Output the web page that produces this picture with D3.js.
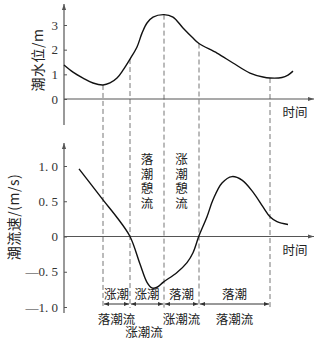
<!DOCTYPE html>
<html><head><meta charset="utf-8">
<script src="https://cdn.jsdelivr.net/npm/d3@7"></script>
<style>
html,body{margin:0;padding:0;background:#fff;}
svg{display:block;}
</style></head>
<body>
<svg id="c" width="325" height="351"></svg>
<script>
// ---- data ----
const levelTime  = [0, 0.45, 0.95, 1.45, 1.95, 2.3, 2.65, 2.95, 3.3, 3.65, 3.9, 4.15, 4.45, 5.0, 5.45, 5.95, 6.45, 6.75, 7.65, 8.45, 9.3, 9.95, 10.3, 10.9, 11.2, 11.45];
const levelValue = [1.38, 1.09, 0.85, 0.65, 0.57, 0.65, 0.85, 1.17, 1.62, 2.11, 2.67, 3.08, 3.32, 3.42, 3.32, 2.88, 2.47, 2.25, 1.86, 1.46, 1.05, 0.89, 0.85, 0.87, 0.97, 1.13];
const speedTime  = [0.75, 1.95, 2.65, 3.3, 3.8, 4.15, 4.4, 4.65, 4.95, 5.65, 6.15, 6.45, 6.75, 7.15, 7.45, 7.9, 8.4, 8.9, 9.45, 9.95, 10.3, 10.65, 11.2];
const speedValue = [0.96, 0.52, 0.27, 0, -0.39, -0.65, -0.73, -0.72, -0.65, -0.51, -0.37, -0.23, 0.01, 0.28, 0.52, 0.76, 0.85, 0.80, 0.63, 0.42, 0.28, 0.21, 0.17];
const boundaries = [1.95, 3.3, 5.0, 6.75, 10.3];
const tideLabels = ["涨潮", "涨潮", "落潮", "落潮"];
const flowLabels = ["落潮流", "涨潮流", "涨潮流", "落潮流"];
const flowRows   = [0, 1, 0, 0];
const slackLabels = [{seg: 1, text: "落潮憩流"}, {seg: 2, text: "涨潮憩流"}];
const levelTicks = [0, 1, 2, 3];
const speedTicks = [-1.0, -0.5, 0, 0.5, 1.0];
const levelTitle = "潮水位/m";
const speedTitle = "潮流速/(m/s)";
const timeTitle = "时间";

// ---- scales ----
const x = d3.scaleLinear().domain([0, 12.45]).range([64, 313]);
const yTop = d3.scaleLinear().domain([0, 3]).range([99, 25]);
const yBot = d3.scaleLinear().domain([-1, 1]).range([307, 166]);

const svg = d3.select("#c");
const AX = "#555";
const CJK = "'Noto Sans CJK SC', sans-serif";
const SERIF = "'Liberation Serif', 'DejaVu Serif', serif";

const defs = svg.append("defs");
defs.append("marker").attr("id","ah").attr("viewBox","0 0 10 10").attr("refX",10).attr("refY",5)
  .attr("markerWidth",8).attr("markerHeight",6).attr("markerUnits","userSpaceOnUse").attr("orient","auto")
  .append("path").attr("d","M0,1.5 L10,5 L0,8.5 Z").attr("fill",AX);
defs.append("marker").attr("id","sa").attr("viewBox","0 0 10 10").attr("refX",10).attr("refY",5)
  .attr("markerWidth",6).attr("markerHeight",5).attr("markerUnits","userSpaceOnUse").attr("orient","auto-start-reverse")
  .append("path").attr("d","M0,1 L10,5 L0,9 Z").attr("fill","#333");

// ---- dashed boundary lines ----
const interp = (t) => {
  const i = d3.bisectLeft(levelTime, t);
  if (levelTime[i] === t) return levelValue[i];
  const t0 = levelTime[i-1], t1 = levelTime[i];
  return levelValue[i-1] + (levelValue[i]-levelValue[i-1]) * (t - t0) / (t1 - t0);
};
const dashBottom = yBot(-1) + 1;
svg.append("g").selectAll("line").data(boundaries).join("line")
  .attr("x1", d => x(d)).attr("x2", d => x(d))
  .attr("y1", d => yTop(interp(d))).attr("y2", dashBottom)
  .attr("stroke", "#777").attr("stroke-width", 1).attr("stroke-dasharray", "5,3");

// ---- top axes ----
const gTop = svg.append("g");
gTop.append("line").attr("x1", x(0)).attr("x2", x(0)).attr("y1", yTop(-1.05)).attr("y2", 4)
  .attr("stroke", AX).attr("stroke-width", 1.2).attr("marker-end", "url(#ah)");
gTop.append("line").attr("x1", x(0)).attr("x2", 314).attr("y1", yTop(0)).attr("y2", yTop(0))
  .attr("stroke", AX).attr("stroke-width", 1.2).attr("marker-end", "url(#ah)");
const yAxisTop = d3.axisRight(yTop).tickValues(levelTicks).tickSize(3).tickFormat("");
gTop.append("g").attr("transform", `translate(${x(0)},0)`).call(yAxisTop)
  .call(g => g.select(".domain").remove())
  .call(g => g.selectAll("line").attr("stroke", AX));
gTop.selectAll("text.tl").data(levelTicks).join("text").attr("class","tl")
  .attr("x", 58).attr("y", d => yTop(d)).attr("dy", "0.35em").attr("text-anchor", "end")
  .attr("font-family", SERIF).attr("font-size", 13).attr("fill", "#333").text(d => d);
svg.append("text").attr("transform", `translate(43,60) rotate(-90)`).attr("text-anchor","middle")
  .attr("font-family", CJK).attr("font-size", 14).attr("fill", "#222").attr("letter-spacing", 0.5).text(levelTitle);
svg.append("text").attr("x", 295).attr("y", yTop(0) + 14).attr("dy","0.35em").attr("text-anchor","middle")
  .attr("font-family", CJK).attr("font-size", 12.5).attr("fill", "#222").text(timeTitle);

// ---- bottom axes ----
const gBot = svg.append("g");
gBot.append("line").attr("x1", x(0)).attr("x2", x(0)).attr("y1", 313).attr("y2", 143)
  .attr("stroke", AX).attr("stroke-width", 1.2).attr("marker-end", "url(#ah)");
gBot.append("line").attr("x1", x(0)).attr("x2", 314).attr("y1", yBot(0)).attr("y2", yBot(0))
  .attr("stroke", AX).attr("stroke-width", 1.2).attr("marker-end", "url(#ah)");
const yAxisBot = d3.axisRight(yBot).tickValues(speedTicks).tickSize(3).tickFormat("");
gBot.append("g").attr("transform", `translate(${x(0)},0)`).call(yAxisBot)
  .call(g => g.select(".domain").remove())
  .call(g => g.selectAll("line").attr("stroke", AX));
const fmt = d => d === 0 ? "0" : (d < 0 ? "—" : "") + d3.format(".1f")(Math.abs(d)).replace(".", ". ");
gBot.selectAll("text.tl").data(speedTicks).join("text").attr("class","tl")
  .attr("x", 58).attr("y", d => yBot(d)).attr("dy", "0.35em").attr("text-anchor", "end")
  .attr("font-family", SERIF).attr("font-size", 13).attr("fill", "#333").attr("xml:space","preserve").text(fmt);
svg.append("text").attr("transform", `translate(19,217) rotate(-90)`).attr("text-anchor","middle")
  .attr("font-family", CJK).attr("font-size", 14).attr("fill", "#222").attr("letter-spacing", 0.5).text(speedTitle);
svg.append("text").attr("x", 295).attr("y", yBot(0) + 14).attr("dy","0.35em").attr("text-anchor","middle")
  .attr("font-family", CJK).attr("font-size", 12.5).attr("fill", "#222").text(timeTitle);

// ---- curves ----
const lineTop = d3.line().x(d => x(d[0])).y(d => yTop(d[1])).curve(d3.curveCatmullRom.alpha(0.5));
svg.append("path").datum(d3.zip(levelTime, levelValue)).attr("d", lineTop)
  .attr("fill", "none").attr("stroke", "#111").attr("stroke-width", 1.4);
const lineBot = d3.line().x(d => x(d[0])).y(d => yBot(d[1])).curve(d3.curveCatmullRom.alpha(0.5));
svg.append("path").datum(d3.zip(speedTime, speedValue)).attr("d", lineBot)
  .attr("fill", "none").attr("stroke", "#111").attr("stroke-width", 1.4);

// ---- segment arrows and labels ----
const segs = d3.pairs(boundaries);
const arrowY = 304;
svg.append("g").selectAll("line").data(segs).join("line")
  .attr("x1", d => x(d[0]) + 1).attr("x2", d => x(d[1]) - 1)
  .attr("y1", arrowY).attr("y2", arrowY)
  .attr("stroke", "#333").attr("stroke-width", 1)
  .attr("marker-start", "url(#sa)").attr("marker-end", "url(#sa)");
svg.append("g").selectAll("text").data(segs).join("text")
  .attr("x", d => (x(d[0]) + x(d[1])) / 2).attr("y", 295).attr("dy", "0.35em").attr("text-anchor", "middle")
  .attr("font-family", CJK).attr("font-size", 12.5).attr("fill", "#222").text((d, i) => tideLabels[i]);
svg.append("g").selectAll("text").data(segs).join("text")
  .attr("x", d => (x(d[0]) + x(d[1])) / 2 + (flowRows[d3.pairs(boundaries).findIndex(s => s[0] === d[0])] ? -3 : 0))
  .attr("y", (d, i) => flowRows[i] ? 333 : 320).attr("dy", "0.35em")
  .attr("text-anchor", "middle")
  .attr("font-family", CJK).attr("font-size", 12.5).attr("fill", "#222").text((d, i) => flowLabels[i]);

// ---- vertical slack labels (single vertical text each) ----
svg.append("g").selectAll("text").data(slackLabels).join("text")
  .attr("x", d => (x(segs[d.seg][0]) + x(segs[d.seg][1])) / 2)
  .attr("y", 153)
  .attr("text-anchor", "start")
  .style("writing-mode", "vertical-rl").style("text-orientation", "upright")
  .attr("letter-spacing", 2)
  .attr("font-family", CJK).attr("font-size", 12.5).attr("fill", "#222").text(d => d.text);
</script>
</body></html>
